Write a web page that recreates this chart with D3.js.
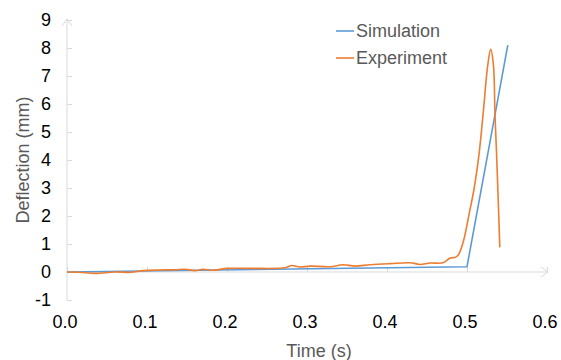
<!DOCTYPE html>
<html>
<head>
<meta charset="utf-8">
<script src="https://cdn.jsdelivr.net/npm/d3@7"></script>
<style>
  html, body { margin: 0; padding: 0; background: #fff; }
  svg { display: block; font-family: "Liberation Sans", Arial, sans-serif; }
</style>
</head>
<body>
<svg id="chart" width="561" height="360"></svg>
<script>
// ---- data ----
const xTicks = [0.0, 0.1, 0.2, 0.3, 0.4, 0.5, 0.6];
const yTicks = [-1, 0, 1, 2, 3, 4, 5, 6, 7, 8, 9];
const seriesNames = ["Simulation", "Experiment"];

const simTime = [0.000, 0.500, 0.551];
const simDefl = [0.00, 0.19, 8.10];

const expTime = [0.000, 0.015, 0.035, 0.060, 0.080, 0.095, 0.115, 0.135, 0.1475, 0.160,
                 0.170, 0.1825, 0.200, 0.229, 0.2725, 0.281, 0.291, 0.304, 0.329, 0.345,
                 0.360, 0.379, 0.404, 0.429, 0.441, 0.454, 0.470, 0.479, 0.486, 0.490,
                 0.496, 0.5025, 0.509, 0.515, 0.520, 0.526, 0.5296, 0.533, 0.535, 0.537,
                 0.539, 0.541];
const expDefl = [0.00, -0.01, -0.05, 0.00, -0.01, 0.05, 0.07, 0.08, 0.10, 0.05,
                 0.10, 0.06, 0.13, 0.13, 0.15, 0.23, 0.18, 0.21, 0.19, 0.26,
                 0.21, 0.26, 0.30, 0.33, 0.27, 0.32, 0.33, 0.50, 0.53, 0.65,
                 1.15, 2.05, 3.00, 4.20, 5.60, 7.40, 7.95, 7.40, 5.60, 4.20,
                 2.60, 0.88];

// ---- layout ----
const svg = d3.select("#chart");
const x = d3.scaleLinear().domain([0, 0.6]).range([67, 547]);
const y = d3.scaleLinear().domain([-1, 9]).range([300, 20]);
const axisColor = "#d9d9d9";
const colors = {Simulation: "#5b9bd5", Experiment: "#ed7d31"};

// x axis at y = 0
const xAxisG = svg.append("g").attr("transform", `translate(0,${y(0)})`)
  .call(d3.axisTop(x).tickValues(xTicks).tickSize(5).tickFormat(""));
xAxisG.select(".domain").remove();
xAxisG.selectAll("line").attr("stroke", axisColor);
svg.append("line").attr("x1", x(0)).attr("x2", x(0.6) + 1)
  .attr("y1", y(0)).attr("y2", y(0)).attr("stroke", axisColor).attr("stroke-width", 1);
// arrow at end of x axis
svg.append("path")
  .attr("d", `M${x(0.6) - 6},${y(0) - 5} L${x(0.6) + 1},${y(0)} L${x(0.6) - 6},${y(0) + 5}`)
  .attr("fill", "none").attr("stroke", axisColor).attr("stroke-width", 1);

// y axis
const yAxisG = svg.append("g").attr("transform", `translate(${x(0)},0)`)
  .call(d3.axisRight(y).tickValues(yTicks).tickSize(5).tickFormat(""));
yAxisG.select(".domain").remove();
yAxisG.selectAll("line").attr("stroke", axisColor);
svg.append("line").attr("x1", x(0)).attr("x2", x(0))
  .attr("y1", y(-1)).attr("y2", y(9)).attr("stroke", axisColor).attr("stroke-width", 1);
svg.append("path")
  .attr("d", `M${x(0) - 5},${y(9) + 6} L${x(0)},${y(9) - 1} L${x(0) + 5},${y(9) + 6}`)
  .attr("fill", "none").attr("stroke", axisColor).attr("stroke-width", 1);

// tick labels
svg.append("g").selectAll("text").data(yTicks).join("text")
  .attr("x", 51).attr("y", d => y(d)).attr("dy", "0.35em")
  .attr("text-anchor", "end").attr("font-size", 18).attr("fill", "#000")
  .text(d => d3.format("d")(d).replace("−", "-"));
svg.append("g").selectAll("text").data(xTicks).join("text")
  .attr("x", d => x(d) - 2).attr("y", 328)
  .attr("text-anchor", "middle").attr("font-size", 18).attr("fill", "#000")
  .text(d => d3.format(".1f")(d));

// axis titles
svg.append("text").attr("transform", "translate(29,160) rotate(-90)")
  .attr("text-anchor", "middle").attr("font-size", 18).attr("fill", "#595959")
  .text("Deflection (mm)");
svg.append("text").attr("x", 319).attr("y", 357)
  .attr("text-anchor", "middle").attr("font-size", 18).attr("fill", "#595959")
  .text("Time (s)");

// series
const simData = simTime.map((t, i) => [t, simDefl[i]]);
const expData = expTime.map((t, i) => [t, expDefl[i]]);

svg.append("path").datum(simData)
  .attr("d", d3.line().x(d => x(d[0])).y(d => y(d[1])))
  .attr("fill", "none").attr("stroke", colors.Simulation).attr("stroke-width", 1.6)
  .attr("stroke-linejoin", "round");
svg.append("path").datum(expData)
  .attr("d", d3.line().curve(d3.curveCatmullRom.alpha(0.5)).x(d => x(d[0])).y(d => y(d[1])))
  .attr("fill", "none").attr("stroke", colors.Experiment).attr("stroke-width", 1.6)
  .attr("stroke-linejoin", "round");

// legend
const leg = svg.append("g");
seriesNames.forEach((name, i) => {
  const yy = 31 + i * 27;
  leg.append("line").attr("x1", 336).attr("x2", 354).attr("y1", yy).attr("y2", yy)
    .attr("stroke", colors[name]).attr("stroke-width", 1.6);
  leg.append("text").attr("x", 356).attr("y", yy).attr("dy", "0.35em")
    .attr("font-size", 18).attr("fill", "#595959").text(name);
});
</script>
</body>
</html>
